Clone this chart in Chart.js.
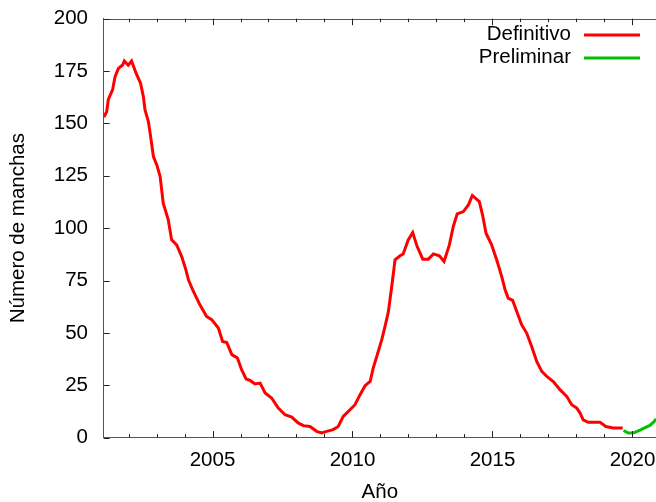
<!DOCTYPE html>
<html>
<head>
<meta charset="utf-8">
<title>Número de manchas</title>
<script src="https://cdn.jsdelivr.net/npm/chart.js@4.4.1/dist/chart.umd.min.js"></script>
<style>
  html, body { margin: 0; padding: 0; background: #fff; overflow: hidden; }
  canvas { display: block; }
</style>
</head>
<body>
<canvas id="sunspots" width="656" height="502"></canvas>
<script>
// valores (número de manchas suavizado)
const defYears = [
  2001.12, 2001.22, 2001.28, 2001.43, 2001.52, 2001.64, 2001.79, 2001.85, 2001.99, 2002.11,
  2002.27, 2002.43, 2002.53, 2002.59, 2002.71, 2002.79, 2002.89, 2003.01, 2003.13, 2003.24,
  2003.42, 2003.54, 2003.72, 2003.90, 2004.05, 2004.14, 2004.31, 2004.55, 2004.79, 2004.97,
  2005.21, 2005.36, 2005.51, 2005.69, 2005.89, 2006.04, 2006.20, 2006.34, 2006.52, 2006.70,
  2006.88, 2007.11, 2007.35, 2007.59, 2007.83, 2008.06, 2008.24, 2008.48, 2008.72, 2008.90,
  2009.08, 2009.31, 2009.49, 2009.67, 2009.91, 2010.09, 2010.27, 2010.45, 2010.63, 2010.74,
  2010.92, 2011.05, 2011.16, 2011.28, 2011.40, 2011.52, 2011.70, 2011.81, 2011.99, 2012.15,
  2012.31, 2012.51, 2012.71, 2012.89, 2013.10, 2013.27, 2013.46, 2013.60, 2013.74, 2013.96,
  2014.14, 2014.28, 2014.53, 2014.65, 2014.77, 2014.97, 2015.15, 2015.33, 2015.45, 2015.56,
  2015.72, 2015.89, 2016.04, 2016.22, 2016.40, 2016.58, 2016.76, 2016.94, 2017.17, 2017.41,
  2017.65, 2017.83, 2018.01, 2018.13, 2018.24, 2018.42, 2018.84, 2019.05, 2019.31, 2019.65
];
const defValues = [
  153.0, 155.6, 161.5, 166.0, 172.3, 176.3, 177.9, 179.8, 177.8, 179.8,
  174.0, 169.2, 162.8, 156.4, 150.9, 143.7, 134.2, 130.2, 124.6, 111.9,
  104.0, 94.4, 92.0, 86.4, 80.1, 75.3, 70.0, 63.4, 57.8, 56.3,
  52.3, 45.9, 45.4, 39.6, 38.0, 32.4, 28.0, 27.3, 25.6, 26.0,
  21.3, 18.9, 14.1, 10.9, 9.8, 7.0, 5.7, 5.3, 3.0, 2.2,
  3.0, 3.8, 5.3, 10.1, 13.3, 15.7, 20.5, 24.8, 26.8, 33.2,
  41.1, 47.0, 53.0, 60.0, 72.0, 84.9, 86.8, 87.7, 94.4, 97.9,
  91.2, 85.2, 85.2, 87.7, 86.8, 84.1, 92.0, 100.8, 106.8, 107.9,
  111.1, 115.6, 112.7, 106.0, 97.6, 92.0, 84.9, 76.9, 70.6, 66.6,
  65.5, 59.4, 53.9, 49.9, 43.5, 36.4, 31.6, 29.2, 26.8, 22.9,
  19.7, 15.7, 14.1, 11.7, 8.5, 7.3, 7.3, 5.3, 4.6, 4.6
];
const preYears  = [2019.68, 2019.85, 2020.05, 2020.27, 2020.45, 2020.62, 2020.78, 2020.84];
const preValues = [3.4, 2.2, 2.3, 3.6, 4.8, 5.8, 7.7, 9.0];

const xLabels = [2005, 2010, 2015, 2020];
const yLabels = [0, 25, 50, 75, 100, 125, 150, 175, 200];
const xMin = 2001.114, xMax = 2020.84;

const FONT = '"Liberation Sans", Arial, sans-serif';
Chart.defaults.font.family = FONT;
Chart.defaults.font.size = 20.5;
Chart.defaults.color = '#000';

const toPoints = (xs, ys) => xs.map((v, i) => ({ x: v, y: ys[i] }));

// marco superior, marcas hacia dentro y leyenda al estilo gnuplot
const gnuplotFrame = {
    id: 'gnuplotFrame',
    afterDraw(chart) {
        const { ctx, chartArea: a, scales: { x, y } } = chart;
        ctx.save();
        ctx.strokeStyle = '#555';
        ctx.lineWidth = 1;
        ctx.beginPath();
        ctx.moveTo(a.left, Math.round(a.top) + 0.5);
        ctx.lineTo(a.right, Math.round(a.top) + 0.5);
        ctx.stroke();

        ctx.strokeStyle = '#222';
        ctx.beginPath();
        for (let yr = Math.ceil(x.min); yr <= x.max; yr++) {
            const px = Math.round(x.getPixelForValue(yr)) + 0.5;
            const len = yr % 5 === 0 ? 6.5 : 3.5;
            ctx.moveTo(px, a.bottom);
            ctx.lineTo(px, a.bottom - len);
            ctx.moveTo(px, a.top);
            ctx.lineTo(px, a.top + len);
        }
        yLabels.forEach(v => {
            const py = Math.round(y.getPixelForValue(v)) + 0.5;
            ctx.moveTo(a.left, py);
            ctx.lineTo(a.left + 6, py);
        });
        ctx.stroke();

        ctx.font = '20.5px ' + FONT;
        ctx.textAlign = 'right';
        ctx.textBaseline = 'middle';
        chart.data.datasets.forEach((ds, i) => {
            const yy = 34.5 + i * 23;
            ctx.fillStyle = '#000';
            ctx.fillText(ds.label, 571, yy);
            ctx.strokeStyle = ds.borderColor;
            ctx.lineWidth = 3;
            ctx.beginPath();
            ctx.moveTo(584, yy + 0.5);
            ctx.lineTo(640, yy + 0.5);
            ctx.stroke();
        });
        ctx.restore();
    }
};

new Chart(document.getElementById('sunspots'), {
    type: 'line',
    data: {
        datasets: [
            {
                label: 'Definitivo',
                data: toPoints(defYears, defValues),
                borderColor: '#ff0000',
                borderWidth: 3,
                pointRadius: 0,
                tension: 0,
                fill: false
            },
            {
                label: 'Preliminar',
                data: toPoints(preYears, preValues),
                borderColor: '#00c000',
                borderWidth: 3,
                pointRadius: 0,
                tension: 0,
                fill: false
            }
        ]
    },
    options: {
        responsive: false,
        animation: false,
        devicePixelRatio: 1,
        layout: { padding: { top: 18.7, right: 0, bottom: 0, left: 0 } },
        plugins: {
            legend: { display: false },
            tooltip: { enabled: false }
        },
        scales: {
            x: {
                type: 'linear',
                min: xMin,
                max: xMax,
                grid: { display: false, drawTicks: false },
                border: { display: true, color: '#555', width: 1 },
                afterBuildTicks: s => { s.ticks = xLabels.map(v => ({ value: v })); },
                ticks: { padding: 10.3, maxRotation: 0, callback: v => String(v) },
                title: { display: true, text: 'Año', padding: { top: 0, bottom: -3 } },
                afterFit: s => { s.height = 502 - 437.6; s.paddingLeft = 0; s.paddingRight = 0; }
            },
            y: {
                min: 0,
                max: 200,
                grid: { display: false, drawTicks: false },
                border: { display: true, color: '#555', width: 1 },
                afterBuildTicks: s => { s.ticks = yLabels.map(v => ({ value: v })); },
                ticks: { padding: 15.7 },
                title: { display: true, text: 'Número de manchas', padding: { top: 5.7, bottom: 0 } },
                afterFit: s => { s.width = 103.7; s.paddingTop = 0; s.paddingBottom = 0; }
            }
        }
    },
    plugins: [gnuplotFrame]
});
</script>
</body>
</html>
